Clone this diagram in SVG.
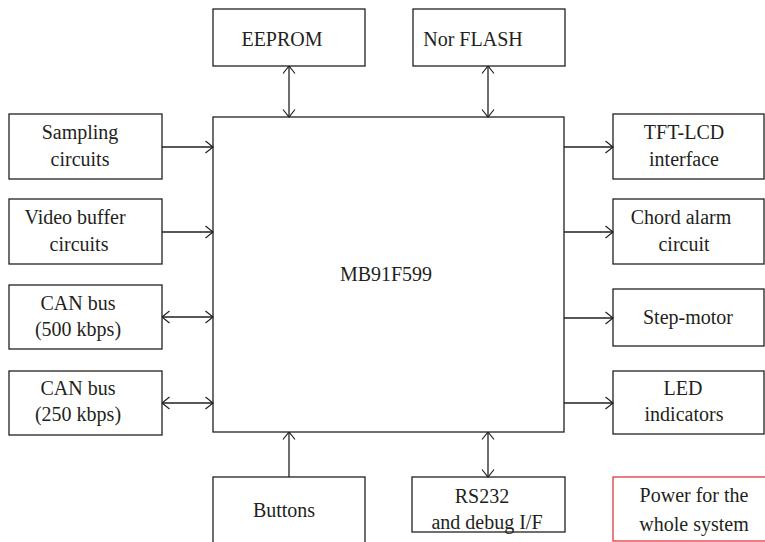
<svg xmlns="http://www.w3.org/2000/svg" width="765" height="542" viewBox="0 0 765 542">
<defs>
<style>
.b{fill:#fff;stroke:#231f20;stroke-width:1.3}
.r{fill:#fff;stroke:#e0393e;stroke-width:1.3}
.t{font-family:"Liberation Serif",serif;font-size:20px;fill:#231f20;text-anchor:middle}
.c{stroke:#231f20;stroke-width:1.3;fill:none}
</style>
<marker id="a" viewBox="0 0 10 14" refX="9.5" refY="7" markerWidth="10" markerHeight="14" markerUnits="userSpaceOnUse" orient="auto-start-reverse">
<path d="M2,1 L9.5,7 L2,13" fill="none" stroke="#231f20" stroke-width="1.2"/>
</marker>
</defs>
<rect width="765" height="542" fill="#fff"/>
<g id="mcu"><rect class="b" x="213" y="117" width="351" height="315"/><text class="t" x="386" y="281">MB91F599</text></g>
<g id="eeprom"><rect class="b" x="213" y="9" width="152" height="57"/><text class="t" x="282" y="46">EEPROM</text></g>
<g id="norflash"><rect class="b" x="413" y="9" width="152" height="57"/><text class="t" x="473" y="46">Nor FLASH</text></g>
<g id="sampling"><rect class="b" x="9" y="114" width="153" height="65"/><text class="t" x="80" y="139">Sampling</text><text class="t" x="80" y="166">circuits</text></g>
<g id="video"><rect class="b" x="9" y="199" width="153" height="65"/><text class="t" x="75" y="224">Video buffer</text><text class="t" x="79" y="251">circuits</text></g>
<g id="can500"><rect class="b" x="9" y="285" width="153" height="64"/><text class="t" x="78" y="310">CAN bus</text><text class="t" x="78" y="336">(500 kbps)</text></g>
<g id="can250"><rect class="b" x="9" y="371" width="153" height="64"/><text class="t" x="78" y="395">CAN bus</text><text class="t" x="78" y="421">(250 kbps)</text></g>
<g id="tft"><rect class="b" x="613" y="114" width="151" height="65"/><text class="t" x="684" y="139">TFT-LCD</text><text class="t" x="684" y="166">interface</text></g>
<g id="chord"><rect class="b" x="613" y="199" width="151" height="65"/><text class="t" x="681" y="224">Chord alarm</text><text class="t" x="684" y="251">circuit</text></g>
<g id="step"><rect class="b" x="613" y="289" width="151" height="57"/><text class="t" x="688" y="324">Step-motor</text></g>
<g id="led"><rect class="b" x="613" y="371" width="151" height="63"/><text class="t" x="683" y="395">LED</text><text class="t" x="684" y="421">indicators</text></g>
<g id="buttons"><rect class="b" x="213" y="477" width="152" height="70"/><text class="t" x="284" y="517">Buttons</text></g>
<g id="rs232"><rect class="b" x="412" y="477" width="153" height="55"/><text class="t" x="482" y="503">RS232</text><text class="t" x="487" y="529">and debug I/F</text></g>
<g id="power"><rect class="r" x="613" y="477" width="160" height="64"/><text class="t" x="694" y="502">Power for the</text><text class="t" x="694" y="531">whole system</text></g>
<g id="connectors">
<line class="c" x1="289" y1="66" x2="289" y2="117" marker-start="url(#a)" marker-end="url(#a)"/>
<line class="c" x1="488" y1="66" x2="488" y2="117" marker-start="url(#a)" marker-end="url(#a)"/>
<line class="c" x1="162" y1="147" x2="213" y2="147" marker-end="url(#a)"/>
<line class="c" x1="162" y1="232" x2="213" y2="232" marker-end="url(#a)"/>
<line class="c" x1="162" y1="317" x2="213" y2="317" marker-start="url(#a)" marker-end="url(#a)"/>
<line class="c" x1="162" y1="403" x2="213" y2="403" marker-start="url(#a)" marker-end="url(#a)"/>
<line class="c" x1="564" y1="147" x2="613" y2="147" marker-end="url(#a)"/>
<line class="c" x1="564" y1="232" x2="613" y2="232" marker-end="url(#a)"/>
<line class="c" x1="564" y1="318" x2="613" y2="318" marker-end="url(#a)"/>
<line class="c" x1="564" y1="403" x2="613" y2="403" marker-end="url(#a)"/>
<line class="c" x1="289" y1="477" x2="289" y2="432" marker-end="url(#a)"/>
<line class="c" x1="488" y1="477" x2="488" y2="432" marker-start="url(#a)" marker-end="url(#a)"/>
</g>
</svg>
